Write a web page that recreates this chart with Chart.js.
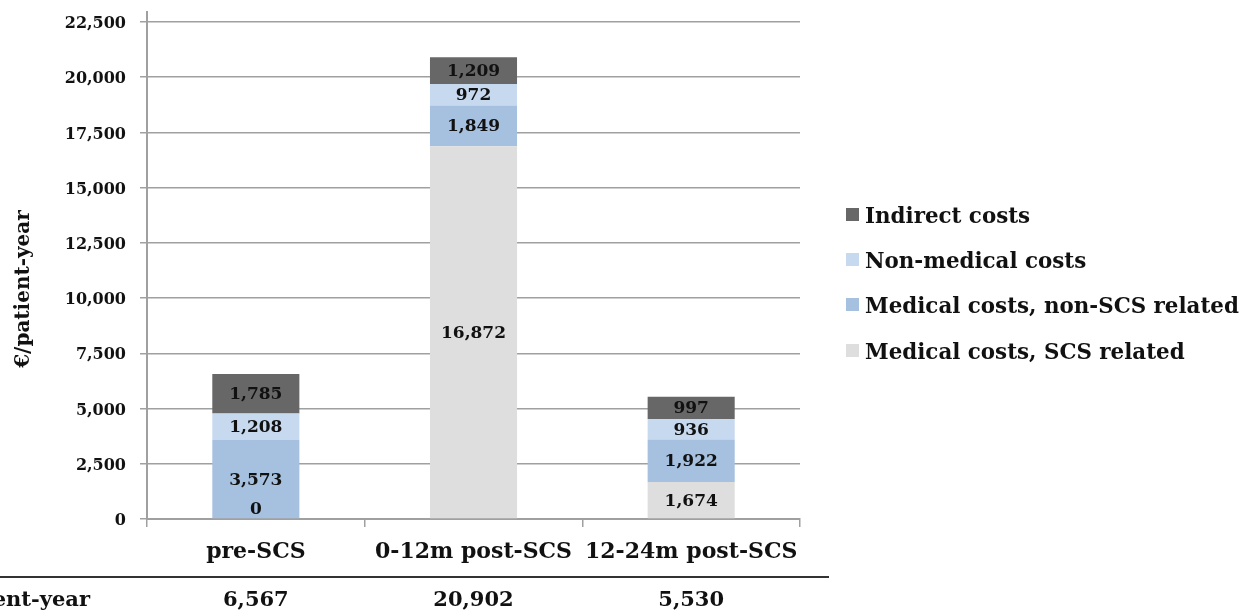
<!DOCTYPE html>
<html>
<head>
<meta charset="utf-8">
<script src="https://cdn.jsdelivr.net/npm/chart.js@4.4.1/dist/chart.umd.min.js"></script>
<style>
  html, body { margin: 0; padding: 0; background: #ffffff; }
  #wrap { width: 1254px; height: 615px; }
</style>
</head>
<body>
<div id="wrap"><canvas id="costChart" width="1254" height="615"></canvas></div>
<script>
// Cost per patient-year by period, split by cost type
const periods = ['pre-SCS', '0-12m post-SCS', '12-24m post-SCS'];
const scsRelated = [0, 16872, 1674];
const nonScsRelated = [3573, 1849, 1922];
const nonMedical = [1208, 972, 936];
const indirect = [1785, 1209, 997];
const totals = [6567, 20902, 5530];
const yTickValues = [0, 2500, 5000, 7500, 10000, 12500, 15000, 17500, 20000, 22500];

const FONT = '"DejaVu Serif", "Liberation Serif", serif';
const fmt = v => v.toLocaleString('en-US');

// Bar segment values written inside each segment
const segmentLabels = {
  id: 'segmentLabels',
  afterDatasetsDraw(chart) {
    const ctx = chart.ctx;
    ctx.save();
    ctx.font = 'bold 17px ' + FONT;
    ctx.fillStyle = '#111111';
    ctx.textAlign = 'center';
    ctx.textBaseline = 'middle';
    chart.data.datasets.forEach((ds, di) => {
      const meta = chart.getDatasetMeta(di);
      meta.data.forEach((bar, i) => {
        const v = ds.data[i];
        const y = v === 0 ? bar.base - 10 : (bar.y + bar.base) / 2;
        ctx.fillText(fmt(v), bar.x, y + 1);
      });
    });
    ctx.restore();
  }
};

// Legend, axis title and the totals row beneath the axis
const extras = {
  id: 'extras',
  afterDraw(chart) {
    const ctx = chart.ctx;
    const x = chart.scales.x;
    ctx.save();

    // y axis title
    ctx.save();
    ctx.translate(24, 289);
    ctx.rotate(-Math.PI / 2);
    ctx.font = 'bold 20px ' + FONT;
    ctx.fillStyle = '#111111';
    ctx.textAlign = 'center';
    ctx.textBaseline = 'middle';
    ctx.fillText('€/patient-year', 0, 0);
    ctx.restore();

    // legend (top of stack first)
    const rows = [217, 262, 307, 353];
    const order = chart.data.datasets.map((d, i) => i).reverse();
    ctx.font = 'bold 21.4px ' + FONT;
    ctx.textAlign = 'left';
    ctx.textBaseline = 'middle';
    order.forEach((di, r) => {
      const ds = chart.data.datasets[di];
      ctx.fillStyle = ds.backgroundColor;
      ctx.fillRect(846, rows[r] - 9, 13, 13);
      ctx.fillStyle = '#111111';
      ctx.fillText(ds.label, 865, rows[r]);
    });

    // divider line
    ctx.strokeStyle = '#333333';
    ctx.lineWidth = 2;
    ctx.beginPath();
    ctx.moveTo(0, 577);
    ctx.lineTo(829, 577);
    ctx.stroke();

    // totals row
    ctx.font = 'bold 21px ' + FONT;
    ctx.fillStyle = '#111111';
    ctx.textBaseline = 'middle';
    ctx.textAlign = 'right';
    ctx.fillText('Total costs/patient-year', 90, 601);
    ctx.textAlign = 'center';
    totals.forEach((t, i) => {
      ctx.fillText(fmt(t), x.getPixelForValue(i), 601);
    });
    ctx.restore();
  }
};

new Chart(document.getElementById('costChart'), {
  type: 'bar',
  data: {
    labels: periods,
    datasets: [
      { label: 'Medical costs, SCS related', data: scsRelated, backgroundColor: '#dedede' },
      { label: 'Medical costs, non-SCS related', data: nonScsRelated, backgroundColor: '#a6c0e0' },
      { label: 'Non-medical costs', data: nonMedical, backgroundColor: '#c7d9ef' },
      { label: 'Indirect costs', data: indirect, backgroundColor: '#676767' }
    ]
  },
  options: {
    responsive: false,
    animation: false,
    devicePixelRatio: 1,
    layout: { padding: { left: 0, top: 12, right: 454, bottom: 46 } },
    datasets: { bar: { barPercentage: 0.4, categoryPercentage: 1.0, borderWidth: 0 } },
    plugins: {
      legend: { display: false },
      tooltip: { enabled: false }
    },
    scales: {
      x: {
        stacked: true,
        grid: { drawOnChartArea: false, drawTicks: true, tickLength: 8, color: '#a0a0a0', lineWidth: 1.5 },
        border: { color: '#a0a0a0', width: 2 },
        ticks: {
          color: '#111111',
          padding: 12,
          maxRotation: 0,
          minRotation: 0,
          autoSkip: false,
          font: { family: FONT, size: 22, weight: 'bold' }
        },
        afterFit(scale) { scale.height = 50; scale.paddingLeft = 0; scale.paddingRight = 0; }
      },
      y: {
        stacked: true,
        min: 0,
        max: 22950,
        afterBuildTicks(scale) { scale.ticks = yTickValues.map(v => ({ value: v })); },
        afterFit(scale) { scale.width = 147; scale.paddingTop = 0; scale.paddingBottom = 0; },
        grid: { color: '#a0a0a0', lineWidth: 1.5, drawTicks: true, tickLength: 7 },
        border: { color: '#a0a0a0', width: 2 },
        ticks: {
          color: '#111111',
          padding: 14,
          labelOffset: 2,
          font: { family: FONT, size: 16, weight: 'bold' },
          callback: v => fmt(v)
        }
      }
    }
  },
  plugins: [segmentLabels, extras]
});
</script>
</body>
</html>
